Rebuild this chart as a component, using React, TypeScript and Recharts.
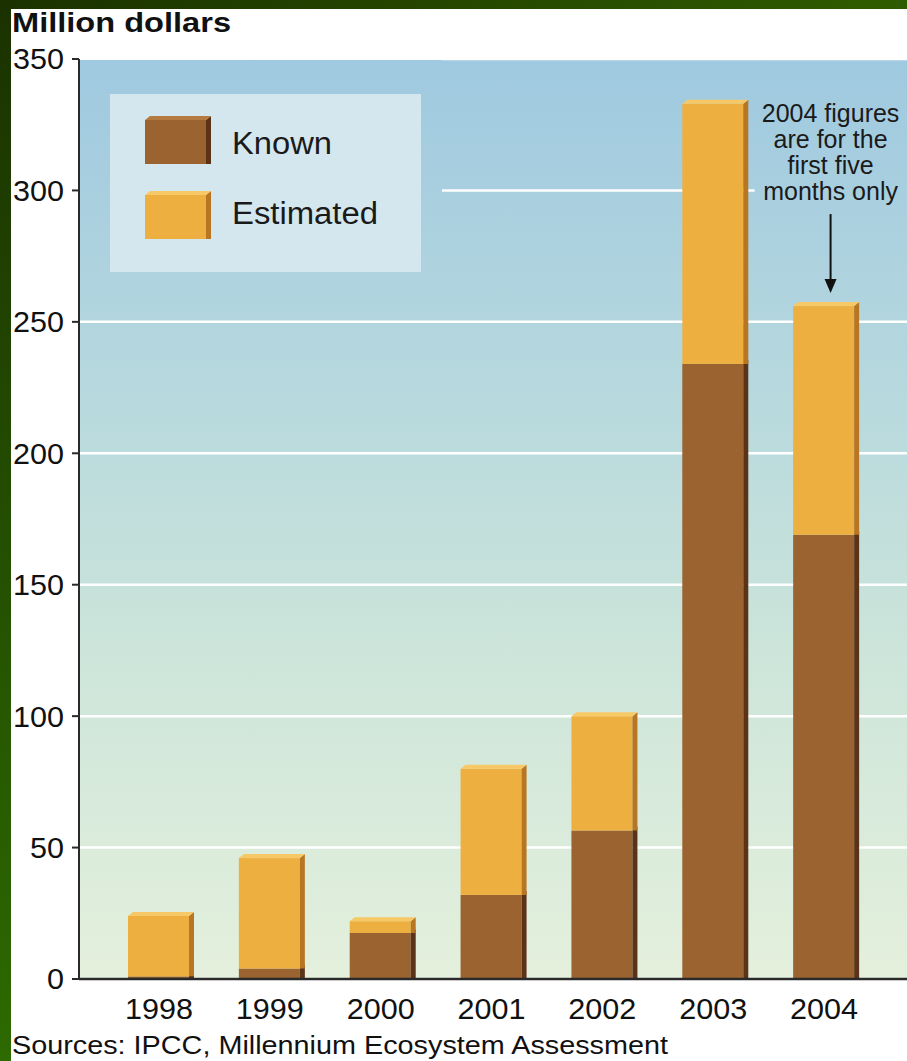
import React from 'react'
import { BarChart, Bar, XAxis, YAxis, CartesianGrid, ReferenceLine } from 'recharts'

const years = ['1998', '1999', '2000', '2001', '2002', '2003', '2004']
// million dollars per year, split into the known part and the estimated remainder
const known = [1, 4, 17.5, 32, 56.5, 234, 169]
const estimated = [23, 42, 4.5, 48, 43.5, 99, 87]
const yTicks = [0, 50, 100, 150, 200, 250, 300, 350]
const noteLines = ['2004 figures', 'are for the', 'first five', 'months only']

const data = years.map((year, i) => ({ year, known: known[i], estimated: estimated[i] }))

const W = 907
const H = 1061
const PLOT_TOP = 59
const PLOT_BOTTOM = 979
const FONT = '"Liberation Sans", Arial, Helvetica, sans-serif'
const DIGIT_W = 17

const SIDE = 5
const LIFT = 4

const KNOWN = { front: '#9b6330', side: '#5a3318', top: '#b57a40' }
const EST = { front: '#edb040', side: '#b87522', top: '#f7c966' }

const bgStops = [
  { offset: '0%', color: '#9fc9e0' },
  { offset: '35%', color: '#b6d8de' },
  { offset: '65%', color: '#cde5da' },
  { offset: '100%', color: '#e4f0dc' },
]

// front face + darker right side, optional light top face
function block(x: number, y: number, w: number, h: number, c: typeof KNOWN, withTop: boolean) {
  const fw = w - SIDE
  return (
    <g>
      <rect x={x} y={y} width={fw} height={h} fill={c.front} />
      <polygon
        points={`${x + fw},${y} ${x + w},${y - LIFT} ${x + w},${y + h} ${x + fw},${y + h}`}
        fill={c.side}
      />
      {withTop && (
        <polygon
          points={`${x},${y} ${x + SIDE},${y - LIFT} ${x + w},${y - LIFT} ${x + fw},${y}`}
          fill={c.top}
        />
      )}
    </g>
  )
}

const KnownShape = (p: any) => block(p.x, p.y, p.width, p.height, KNOWN, false)
const EstimatedShape = (p: any) => block(p.x, p.y, p.width, p.height, EST, true)

// labels are a bit wider than the stock font, so stretch them to a fixed digit width
const XTick = (p: any) => {
  const s = String(p.payload.value)
  return (
    <text x={p.x - SIDE / 2} y={p.y} dy="0.71em" textAnchor="middle" fontSize={29} fontFamily={FONT} fill="#111"
      textLength={s.length * DIGIT_W} lengthAdjust="spacingAndGlyphs">
      {s}
    </text>
  )
}

const YTick = (p: any) => {
  const s = String(p.payload.value)
  return (
    <text x={p.x} y={p.y} dy="0.36em" textAnchor="end" fontSize={29} fontFamily={FONT} fill="#111"
      textLength={s.length * DIGIT_W} lengthAdjust="spacingAndGlyphs">
      {s}
    </text>
  )
}

function LegendBox() {
  const items = [
    { name: 'Known', c: KNOWN, y: 120, ty: 154, len: 100 },
    { name: 'Estimated', c: EST, y: 195, ty: 224, len: 146 },
  ]
  return (
    <g>
      {/* hides the gridline behind the legend area */}
      <rect x={80} y={PLOT_TOP + 1} width={362} height={240} fill="url(#plotBg)" />
      <rect x={110} y={94} width={311} height={178} fill="#d4e7ee" />
      {items.map(it => (
        <g key={it.name}>
          {block(145, it.y, 66, 44, it.c, true)}
          <text x={232} y={it.ty} fontSize={31} fontFamily={FONT} fill="#1a1a1a"
            textLength={it.len} lengthAdjust="spacingAndGlyphs">
            {it.name}
          </text>
        </g>
      ))}
    </g>
  )
}

const NoteArrow = (p: any) => {
  const cx = p.x1 + 4
  const top = p.y1
  const tip = p.y2
  return (
    <g>
      <rect x={cx - 76} y={top - 118} width={W - (cx - 76)} height={110} fill="url(#plotBg)" />
      {noteLines.map((line, i) => (
        <text
          key={line}
          x={cx}
          y={top - 92 + i * 26}
          textAnchor="middle"
          fontSize={25}
          fontFamily={FONT}
          fill="#1a1a1a"
        >
          {line}
        </text>
      ))}
      <line x1={cx} y1={top} x2={cx} y2={tip - 12} stroke="#111" strokeWidth={2} />
      <polygon points={`${cx - 6},${tip - 14} ${cx + 6},${tip - 14} ${cx},${tip}`} fill="#111" />
    </g>
  )
}

export default function App() {
  return (
    <div style={{ position: 'absolute', left: 0, top: 0, width: W, height: H, background: '#fff' }}>
      <div style={{ position: 'absolute', left: 0, top: 0, width: W, height: 9, background: 'linear-gradient(to right, #1b3200, #2f5c00)' }} />
      <div style={{ position: 'absolute', left: 0, top: 0, width: 11, height: H, background: 'linear-gradient(to bottom, #1b3200, #2d6a00)' }} />
      <div style={{ position: 'absolute', left: 0, top: 0 }}>
        <BarChart
          width={W}
          height={H}
          data={data}
          margin={{ top: PLOT_TOP, right: 0, bottom: 0, left: 0 }}
          barSize={66}
        >
          <defs>
            <linearGradient id="plotBg" gradientUnits="userSpaceOnUse" x1={0} y1={PLOT_TOP} x2={0} y2={PLOT_BOTTOM}>
              {bgStops.map(s => (
                <stop key={s.offset} offset={s.offset} stopColor={s.color} />
              ))}
            </linearGradient>
          </defs>
          <CartesianGrid vertical={false} stroke="#ffffff" strokeWidth={2.5} fill="url(#plotBg)" fillOpacity={1} />
          <XAxis
            dataKey="year"
            height={H - PLOT_BOTTOM}
            padding={{ left: 27, right: 25 }}
            axisLine={{ stroke: '#2a2a2a', strokeWidth: 2.5 }}
            tickLine={false}
            tickSize={0}
            tickMargin={19}
            tick={XTick}
          />
          <YAxis
            width={79}
            domain={[0, 350]}
            ticks={yTicks}
            interval={0}
            axisLine={{ stroke: '#2a2a2a', strokeWidth: 2 }}
            tickLine={{ stroke: '#2a2a2a', strokeWidth: 2 }}
            tickSize={7}
            tickMargin={8}
            tick={YTick}
          />
          <Bar dataKey="known" name="Known" stackId="a" fill={KNOWN.front} shape={KnownShape} isAnimationActive={false} />
          <Bar dataKey="estimated" name="Estimated" stackId="a" fill={EST.front} shape={EstimatedShape} isAnimationActive={false} />
          <ReferenceLine
            segment={[{ x: '2004', y: 291 }, { x: '2004', y: 261 }]}
            shape={NoteArrow}
          />
          <LegendBox />
          <text x={12} y={32} fontSize={27} fontWeight="bold" fontFamily={FONT} fill="#111" textLength={219} lengthAdjust="spacingAndGlyphs">
            Million dollars
          </text>
          <text x={12} y={1054} fontSize={26} fontFamily={FONT} fill="#111" textLength={656} lengthAdjust="spacingAndGlyphs">
            Sources: IPCC, Millennium Ecosystem Assessment
          </text>
        </BarChart>
      </div>
    </div>
  )
}
